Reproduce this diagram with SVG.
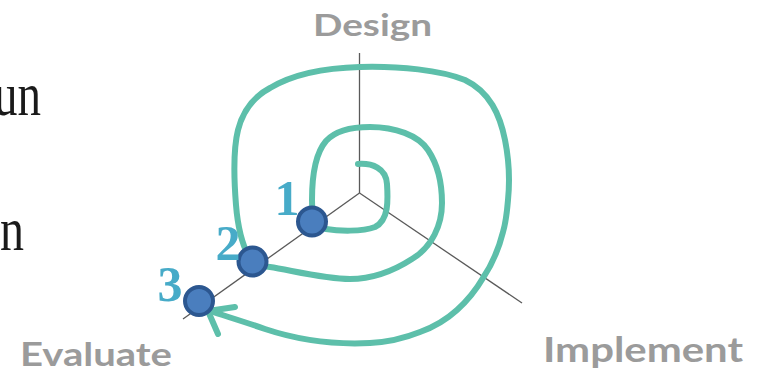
<svg xmlns="http://www.w3.org/2000/svg" width="761" height="372" viewBox="0 0 761 372">
<style>
.axis{stroke:#5a5a5a;stroke-width:1.3;fill:none}
.spiral{stroke:#5DBFAA;stroke-width:6;fill:none;stroke-linecap:round;stroke-linejoin:round}
.dot{fill:#4A7EBE;stroke:#2C5790;stroke-width:4}
.num{font-family:"Liberation Serif",serif;font-weight:bold;font-size:50px;fill:#47ABC8;text-anchor:middle}
.lab{font-family:Lato,"Liberation Sans",sans-serif;font-weight:bold;fill:#9B9B9B}
.side{font-family:"Liberation Serif",serif;fill:#1a1a1a}
</style>
<rect width="761" height="372" fill="#ffffff"/>
<g id="side-text">
<text class="side" x="-6" y="115" font-size="62" textLength="47" lengthAdjust="spacingAndGlyphs">un</text>
<text class="side" x="0" y="250" font-size="62" textLength="24" lengthAdjust="spacingAndGlyphs">n</text>
</g>
<g id="axes">
<line class="axis" x1="359.5" y1="53" x2="359.5" y2="193"/>
<line class="axis" x1="359.5" y1="193" x2="183" y2="319"/>
<line class="axis" x1="359.5" y1="193" x2="522" y2="303"/>
</g>
<g id="axis-labels">
<g id="design"><text class="lab" x="313" y="36" font-size="31" textLength="119" lengthAdjust="spacingAndGlyphs">Design</text></g>
<g id="evaluate"><text class="lab" x="20" y="366" font-size="33" textLength="152" lengthAdjust="spacingAndGlyphs">Evaluate</text></g>
<g id="implement"><text class="lab" x="543" y="362" font-size="35" textLength="200" lengthAdjust="spacingAndGlyphs">Implement</text></g>
</g>
<g id="connectors">
<path class="spiral" d="M358,164 C372,163 386,168 387,184 C388,200 389,220 375,227 C362,232 338,231 326,229 C314,227 312,216 312,200 C312,180 314,155 326,141 C336,130 352,127 370,127 C395,127 418,135 428,150 C438,165 442,185 442,203 C442,225 432,247 412,259 C395,270 375,279 350,279 C325,279 290,270 270,267 C262,266 256,264 252,262 C244,250 238,230 236,205 C234,180 233,150 238,130 C243,110 255,96 270,88 C290,76 320,68 360,67 C400,66 440,70 465,80 C490,92 500,115 505,140 C509,160 510,180 508,200 C507,212 506,222 503,232 C499,248 493,263 483,278 C476,290 467,301 457,310 C446,320 434,327 420,332 C405,338 390,342 370,343 C330,345 295,339 265,329 C245,322 225,316 210,311"/>
<path class="spiral" d="M235,307 L208,311 L218,334"/>
</g>
<g id="node-1">
<circle class="dot" cx="312" cy="221.5" r="14"/>
<text class="num" x="287" y="215">1</text>
</g>
<g id="node-2">
<circle class="dot" cx="252.5" cy="261.5" r="14"/>
<text class="num" x="228" y="260">2</text>
</g>
<g id="node-3">
<circle class="dot" cx="199" cy="301" r="14"/>
<text class="num" x="170" y="301">3</text>
</g>
</svg>
